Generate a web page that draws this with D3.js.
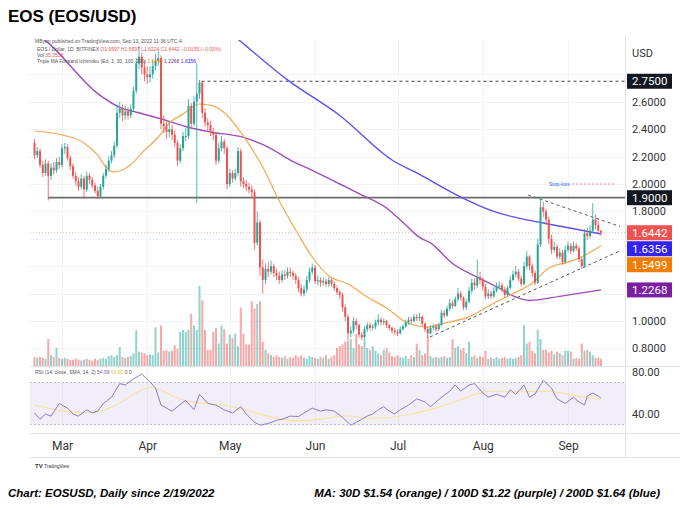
<!DOCTYPE html>
<html>
<head>
<meta charset="utf-8">
<script src="https://cdn.jsdelivr.net/npm/d3@7"></script>
<style>
  body { margin: 0; background: #fff; }
  svg { display: block; font-family: "Liberation Sans", Arial, sans-serif; }
</style>
</head>
<body>
<svg width="680" height="508"></svg>
<script>
// daily EOS/USD candles, Feb 19 2022 -> Sep 13 2022
var firstOpen = 2.30;
var closes = [
  2.21, 2.24, 2.14, 2.08, 2.15, 2.06, 2.12, 2.10, 2.16, 2.14,
  2.26, 2.27, 2.19, 2.13, 2.06, 2.02, 1.98, 2.04, 1.96, 2.06,
  2.03, 1.99, 1.95, 1.91, 1.98, 2.06, 2.11, 2.17, 2.21, 2.28,
  2.52, 2.55, 2.50, 2.53, 2.50, 2.55, 2.68, 2.88, 2.93, 2.85,
  2.80, 2.78, 2.80, 2.86, 2.90, 2.92, 2.44, 2.42, 2.38, 2.40,
  2.36, 2.30, 2.17, 2.26, 2.35, 2.35, 2.57, 2.44, 2.60, 2.66,
  2.74, 2.52, 2.45, 2.43, 2.38, 2.36, 2.17, 2.26, 2.31, 2.26,
  2.00, 2.08, 2.04, 2.08, 2.24, 2.02, 2.00, 1.98, 1.96, 1.94,
  1.57, 1.72, 1.39, 1.30, 1.38, 1.36, 1.40, 1.35, 1.33, 1.30,
  1.34, 1.33, 1.36, 1.35, 1.33, 1.30, 1.24, 1.20, 1.23, 1.30,
  1.36, 1.39, 1.29, 1.30, 1.28, 1.29, 1.27, 1.30, 1.27, 1.24,
  1.21, 1.19, 1.10, 1.03, 0.91, 0.93, 1.00, 0.97, 0.90, 0.88,
  0.94, 0.97, 0.95, 0.96, 0.99, 1.01, 0.99, 1.00, 0.97, 0.95,
  0.93, 0.92, 0.91, 0.94, 0.96, 0.99, 1.01, 1.00, 1.03, 1.02,
  1.03, 0.98, 0.94, 0.91, 0.95, 0.96, 0.94, 0.97, 1.06, 1.04,
  1.09, 1.13, 1.11, 1.16, 1.20, 1.17, 1.10, 1.14, 1.22, 1.28,
  1.26, 1.32, 1.30, 1.25, 1.18, 1.20, 1.18, 1.22, 1.25, 1.26,
  1.23, 1.19, 1.24, 1.30, 1.34, 1.36, 1.31, 1.27, 1.40, 1.47,
  1.40, 1.35, 1.28, 1.56, 1.83, 1.80, 1.74, 1.60, 1.52, 1.54,
  1.47, 1.50, 1.43, 1.52, 1.55, 1.51, 1.55, 1.53, 1.45, 1.40,
  1.64, 1.62, 1.66, 1.74, 1.70, 1.6597, 1.6442
];
var highs = [
  2.33, 2.27, 2.26, 2.17, 2.18, 2.17, 2.15, 2.16, 2.19, 2.20,
  2.29, 2.30, 2.29, 2.21, 2.15, 2.09, 2.05, 2.07, 2.06, 2.09,
  2.08, 2.05, 2.01, 1.98, 2.00, 2.08, 2.14, 2.20, 2.24, 2.31,
  2.58, 2.60, 2.58, 2.57, 2.56, 2.58, 2.71, 2.92, 3.01, 2.96,
  2.90, 2.86, 2.86, 2.90, 2.95, 2.97, 2.94, 2.50, 2.46, 2.45,
  2.43, 2.39, 2.32, 2.29, 2.38, 2.41, 2.62, 2.59, 2.64, 2.88,
  2.76, 2.75, 2.55, 2.48, 2.46, 2.41, 2.38, 2.30, 2.35, 2.33,
  2.28, 2.11, 2.10, 2.11, 2.27, 2.26, 2.05, 2.03, 2.01, 1.99,
  1.96, 1.80, 1.74, 1.45, 1.42, 1.43, 1.44, 1.42, 1.38, 1.36,
  1.37, 1.37, 1.39, 1.39, 1.37, 1.35, 1.32, 1.27, 1.26, 1.33,
  1.39, 1.42, 1.41, 1.33, 1.32, 1.32, 1.31, 1.32, 1.31, 1.29,
  1.26, 1.23, 1.21, 1.12, 1.05, 0.96, 1.03, 1.02, 0.98, 0.92,
  0.96, 0.99, 0.99, 0.98, 1.01, 1.05, 1.03, 1.02, 1.01, 0.98,
  0.96, 0.95, 0.94, 0.96, 0.98, 1.01, 1.03, 1.03, 1.05, 1.05,
  1.06, 1.04, 0.99, 0.96, 0.97, 0.98, 0.98, 0.99, 1.08, 1.08,
  1.11, 1.16, 1.15, 1.18, 1.24, 1.22, 1.18, 1.16, 1.25, 1.31,
  1.31, 1.45, 1.36, 1.32, 1.27, 1.23, 1.22, 1.25, 1.28, 1.29,
  1.28, 1.25, 1.26, 1.33, 1.37, 1.40, 1.38, 1.33, 1.43, 1.51,
  1.48, 1.42, 1.37, 1.60, 1.905, 1.87, 1.82, 1.76, 1.63, 1.58,
  1.56, 1.53, 1.52, 1.55, 1.58, 1.57, 1.58, 1.57, 1.55, 1.47,
  1.67, 1.68, 1.70, 1.86, 1.78, 1.73, 1.6597
];
var lows = [
  2.18, 2.19, 2.12, 2.05, 2.06, 1.88, 2.03, 2.07, 2.08, 2.11,
  2.12, 2.22, 2.17, 2.10, 2.04, 1.99, 1.95, 1.96, 1.89, 1.94,
  2.00, 1.97, 1.93, 1.89, 1.90, 1.96, 2.04, 2.09, 2.15, 2.19,
  2.26, 2.48, 2.46, 2.47, 2.47, 2.48, 2.53, 2.66, 2.84, 2.80,
  2.75, 2.73, 2.74, 2.77, 2.83, 2.86, 2.40, 2.37, 2.33, 2.34,
  2.32, 2.27, 2.13, 2.15, 2.24, 2.31, 2.33, 2.40, 2.42, 1.86,
  2.62, 2.48, 2.42, 2.39, 2.35, 2.32, 2.14, 2.15, 2.24, 2.22,
  1.96, 1.98, 2.01, 2.02, 2.06, 1.98, 1.97, 1.95, 1.93, 1.90,
  1.52, 1.55, 1.33, 1.20, 1.27, 1.32, 1.34, 1.32, 1.30, 1.27,
  1.28, 1.30, 1.31, 1.32, 1.30, 1.27, 1.21, 1.18, 1.18, 1.21,
  1.28, 1.34, 1.27, 1.26, 1.25, 1.26, 1.25, 1.25, 1.25, 1.22,
  1.19, 1.16, 1.07, 1.00, 0.86, 0.88, 0.91, 0.94, 0.88, 0.86,
  0.87, 0.92, 0.93, 0.93, 0.94, 0.97, 0.97, 0.97, 0.95, 0.93,
  0.91, 0.90, 0.89, 0.90, 0.93, 0.95, 0.97, 0.98, 0.99, 1.00,
  1.00, 0.96, 0.92, 0.88, 0.90, 0.93, 0.92, 0.93, 0.96, 1.02,
  1.03, 1.07, 1.09, 1.10, 1.14, 1.15, 1.08, 1.08, 1.13, 1.20,
  1.23, 1.24, 1.27, 1.22, 1.16, 1.16, 1.16, 1.17, 1.21, 1.23,
  1.21, 1.17, 1.18, 1.23, 1.29, 1.32, 1.29, 1.25, 1.26, 1.38,
  1.37, 1.32, 1.26, 1.27, 1.54, 1.76, 1.70, 1.56, 1.49, 1.50,
  1.45, 1.45, 1.41, 1.42, 1.50, 1.49, 1.50, 1.51, 1.43, 1.38,
  1.39, 1.59, 1.60, 1.64, 1.67, 1.64, 1.6224
];
var volumes = [
  10, 9, 10, 9, 8, 30, 12, 10, 20, 9, 8,
  9, 8, 7, 7, 8, 7, 6, 7, 8, 7, 6, 8, 7, 8, 9, 8, 11, 12, 10,
  12, 21, 10, 9, 10, 11, 14, 40, 16, 15, 14,
  12, 13, 12, 43, 15, 45, 17, 18, 16, 17, 23, 19, 38, 40, 38, 40, 58, 45,
  40, 89, 73, 40, 18, 18, 38, 42, 25, 45, 41, 25, 35, 31, 36, 22, 65, 36, 24, 24, 72,
  64, 69, 72, 27, 18, 14, 12, 10, 12, 10, 9, 11, 8, 10, 9, 12,
  10, 12, 9, 8, 11, 10, 9, 8, 10, 9, 12, 8, 10, 12, 20, 22, 24, 27,
  28, 30, 20, 36, 24, 22, 30, 20, 18, 22, 17, 14, 12, 18, 20, 15, 11, 10, 12,
  10, 9, 11, 8, 12, 10, 25, 18, 12, 14, 34, 11, 9, 10, 9,
  10, 11, 9, 10, 30, 20, 22, 18, 20, 14, 27, 10, 12, 9, 11, 10,
  17, 8, 9, 8, 10, 8, 9, 10, 8, 9, 8, 9, 10, 12, 45, 25, 27, 17, 14,
  40, 30, 18, 18, 15, 17, 13, 16, 14, 12, 17, 17, 16, 8, 9, 8, 25, 17, 18, 16, 12, 9, 9, 8
];

// moving averages, read at sample days (day 0 = Feb 19)
var ma30Days = [0, 10, 18, 23, 26, 29, 31, 35, 39, 45, 49, 54, 60, 65, 69, 77, 83, 89, 95, 101, 107, 114, 121, 128, 135, 143, 149, 158, 167, 173, 181, 187, 194, 198, 206];
var ma30 = [2.387, 2.358, 2.30, 2.21, 2.124, 2.088, 2.095, 2.14, 2.226, 2.343, 2.445, 2.51, 2.584, 2.57, 2.52, 2.32, 2.124, 1.876, 1.664, 1.467, 1.33, 1.27, 1.175, 1.095, 0.993, 0.956, 0.985, 1.03, 1.13, 1.19, 1.277, 1.387, 1.43, 1.46, 1.5499];
var ma100Days = [2, 5, 23, 31, 38, 47, 55, 64, 76, 85, 93, 101, 111, 118, 128, 135, 140, 144, 152, 161, 168, 175, 180, 191, 206];
var ma100 = [3.08, 3.03, 2.66, 2.56, 2.52, 2.47, 2.42, 2.38, 2.34, 2.27, 2.175, 2.10, 2.00, 1.93, 1.825, 1.70, 1.61, 1.57, 1.42, 1.32, 1.25, 1.175, 1.15, 1.18, 1.2268];
var ma200Days = [72, 75, 92, 111, 130, 140, 155, 167, 185, 197, 206];
var ma200 = [3.09, 3.04, 2.76, 2.50, 2.175, 2.07, 1.905, 1.80, 1.715, 1.67, 1.6356];

// RSI(14) and its SMA, read at sample days
var rsiDays = [0, 2, 4, 6, 9, 12, 14, 16, 19, 21, 23, 25, 28, 31, 33, 36, 39, 42, 44, 46, 48, 50, 52, 55, 58, 60, 63, 66, 69, 72, 75, 77, 80, 82, 85, 88, 90, 93, 96, 98, 101, 104, 106, 109, 112, 115, 117, 119, 121, 123, 125, 127, 129, 131, 133, 136, 139, 142, 144, 146, 148, 151, 153, 155, 158, 160, 163, 165, 168, 171, 173, 175, 178, 180, 182, 185, 188, 190, 193, 196, 198, 200, 201, 203, 205, 206];
var rsi = [41, 35, 40, 38, 50, 45.6, 40, 38, 44, 41, 42.7, 50, 56, 69, 67.6, 73.5, 78, 70.6, 64.7, 48.5, 45.6, 42.6, 47, 53, 44, 58.8, 50, 48.5, 44, 41, 47, 40, 32, 29.4, 31, 34, 35, 38, 37.6, 41, 45.6, 42.7, 44, 42.7, 36.8, 29.4, 32, 35, 38, 40, 44, 47, 42.7, 40, 44, 48.5, 54.4, 51.5, 47, 51.5, 56, 61.8, 67.6, 61.8, 67.6, 69, 60, 56, 58.8, 56, 63, 58.8, 67.6, 56, 59, 72, 64.7, 54.4, 50, 56, 51.5, 48.5, 57, 60, 57, 55];
var rsiMaDays = [0, 12, 25, 33, 42, 50, 58, 69, 80, 93, 106, 113, 120, 133, 147, 160, 165, 174, 188, 196, 206];
var rsiMa = [48.5, 41, 41, 53, 70.6, 56, 50, 50, 41, 32, 35, 40, 35, 37, 45.6, 58.8, 63, 60, 63, 57, 54];

// drawn levels and triangle
var resistance = 1.90;
var target = 2.75;
var stopLoss = 2.00;
var upperTrend = [[179.5, 1.92], [212.9, 1.69]];
var lowerTrend = [[143.8, 0.883], [212.9, 1.512]];

var priceTicks = [0.8, 1.0, 1.2, 1.4, 1.6, 1.8, 2.0, 2.2, 2.4, 2.6, 2.8];
var rsiTicks = [40, 80];
var tagValues = [2.75, 1.90, 1.6442, 1.6356, 1.5499, 1.2268];

var UP = '#26a69a', DOWN = '#ef5350';
var tagColors = ['#131722', '#131722', '#ef5350', '#3322f5', '#f57c00', '#7b1fa2'];

var opens = closes.map((c, i) => i === 0 ? firstOpen : closes[i - 1]);

var svg = d3.select('svg');
var start = Date.UTC(2022, 1, 19);
var day = i => new Date(start + i * 864e5);

var x = d3.scaleUtc().domain([day(0), day(206)]).range([34.5, 601]);
var y = d3.scaleLinear().domain([0.8, 2.8]).range([348.4, 74.4]);
var vy = d3.scaleLinear().domain([0, 100]).range([366, 276]);
var ry = d3.scaleLinear().domain([40, 80]).range([414, 372]);

var defs = svg.append('defs');
defs.append('clipPath').attr('id', 'mainClip').append('rect')
  .attr('x', 30).attr('y', 40).attr('width', 595).attr('height', 326);
defs.append('clipPath').attr('id', 'rsiClip').append('rect')
  .attr('x', 30).attr('y', 367).attr('width', 595).attr('height', 66);

// title
svg.append('text').attr('x', 8).attr('y', 22)
  .style('font-size', '17px').style('font-weight', 'bold').attr('fill', '#000')
  .text('EOS (EOS/USD)');

// frame
var frame = svg.append('g').attr('stroke', '#e0e3eb').attr('stroke-width', 1);
frame.append('line').attr('x1', 625.5).attr('x2', 625.5).attr('y1', 36).attr('y2', 457);
frame.append('line').attr('x1', 30).attr('x2', 680).attr('y1', 366.5).attr('y2', 366.5);
frame.append('line').attr('x1', 30).attr('x2', 680).attr('y1', 433.5).attr('y2', 433.5);
frame.append('line').attr('x1', 30).attr('x2', 680).attr('y1', 457.5).attr('y2', 457.5);

// grid
var months = x.ticks(d3.utcMonth.every(1));
var grid = svg.append('g').attr('stroke', '#f2f3f6').attr('stroke-width', 1);
grid.selectAll('.vg').data(months).enter().append('line')
  .attr('x1', d => Math.round(x(d)) + 0.5).attr('x2', d => Math.round(x(d)) + 0.5)
  .attr('y1', 40).attr('y2', 433);
grid.selectAll('.hg').data(priceTicks).enter().append('line')
  .attr('x1', 30).attr('x2', 625)
  .attr('y1', d => Math.round(y(d)) + 0.5).attr('y2', d => Math.round(y(d)) + 0.5);

var main = svg.append('g').attr('clip-path', 'url(#mainClip)');

// volume
main.append('g').selectAll('rect').data(volumes).enter().append('rect')
  .attr('x', (d, i) => x(day(i)) - 1)
  .attr('width', 2)
  .attr('y', d => vy(d))
  .attr('height', d => vy(0) - vy(d))
  .attr('fill', (d, i) => closes[i] >= opens[i] ? UP : DOWN)
  .attr('fill-opacity', 0.5);

// last price line
main.append('line').attr('x1', 30).attr('x2', 625)
  .attr('y1', y(closes[closes.length - 1])).attr('y2', y(closes[closes.length - 1]))
  .attr('stroke', DOWN).attr('stroke-opacity', 0.45).attr('stroke-dasharray', '1,2');

// levels
main.append('line').attr('x1', 48).attr('x2', 625)
  .attr('y1', y(resistance)).attr('y2', y(resistance))
  .attr('stroke', '#6b6b6b').attr('stroke-width', 1.8);
main.append('line').attr('x1', x(day(60)) + 2).attr('x2', 625)
  .attr('y1', y(target)).attr('y2', y(target))
  .attr('stroke', '#444').attr('stroke-width', 1).attr('stroke-dasharray', '3,3');
main.append('text').attr('x', 549).attr('y', y(stopLoss) + 1.5)
  .style('font-size', '5px').attr('fill', '#2962ff').text('Stop-loss');
main.append('line').attr('x1', 572).attr('x2', 614)
  .attr('y1', y(stopLoss)).attr('y2', y(stopLoss))
  .attr('stroke', '#f06292').attr('stroke-width', 0.8).attr('stroke-dasharray', '2,2');

// moving averages
var maLine = (days, vals) => d3.line()
  .x((d, i) => x(day(days[i])))
  .y(d => y(d))
  .curve(d3.curveMonotoneX)(vals);
main.append('path').attr('d', maLine(ma200Days, ma200))
  .attr('fill', 'none').attr('stroke', '#5a52ee').attr('stroke-width', 1.4);
main.append('path').attr('d', maLine(ma100Days, ma100))
  .attr('fill', 'none').attr('stroke', '#9c4dbb').attr('stroke-width', 1.4);
main.append('path').attr('d', maLine(ma30Days, ma30))
  .attr('fill', 'none').attr('stroke', '#f5a851').attr('stroke-width', 1.2);

// triangle
[upperTrend, lowerTrend].forEach(t => {
  main.append('line')
    .attr('x1', x(day(t[0][0]))).attr('y1', y(t[0][1]))
    .attr('x2', x(day(t[1][0]))).attr('y2', y(t[1][1]))
    .attr('stroke', '#555').attr('stroke-width', 1).attr('stroke-dasharray', '3,3');
});

// candles
var candles = main.append('g').selectAll('g').data(closes).enter().append('g')
  .attr('fill', (d, i) => d >= opens[i] ? UP : DOWN)
  .attr('stroke', (d, i) => d >= opens[i] ? UP : DOWN);
candles.append('line')
  .attr('x1', (d, i) => x(day(i))).attr('x2', (d, i) => x(day(i)))
  .attr('y1', (d, i) => y(highs[i])).attr('y2', (d, i) => y(lows[i]))
  .attr('stroke-width', 0.8);
candles.append('rect')
  .attr('stroke', 'none')
  .attr('x', (d, i) => x(day(i)) - 1)
  .attr('width', 2)
  .attr('y', (d, i) => y(Math.max(d, opens[i])))
  .attr('height', (d, i) => Math.max(0.8, Math.abs(y(d) - y(opens[i]))));

// legend (tiny TradingView header)
var leg = svg.append('g').style('font-size', '5px').attr('fill', '#555');
leg.append('text').attr('x', 35).attr('y', 43).text('MByun published on TradingView.com, Sep 13, 2022 11:36 UTC-4');
var l1 = leg.append('text').attr('x', 37).attr('y', 51);
l1.append('tspan').text('EOS / Dollar, 1D, BITFINEX  ');
l1.append('tspan').attr('fill', DOWN).text('O1.6597  H1.6597  L1.6224  C1.6442  −0.0155 (−0.93%)');
var l2 = leg.append('text').attr('x', 37).attr('y', 57);
l2.append('tspan').text('Vol  ');
l2.append('tspan').attr('fill', DOWN).text('35.353K');
var l3 = leg.append('text').attr('x', 37).attr('y', 63);
l3.append('tspan').text('Triple MA Forward Ichimoku (Ed, 3, 30, 100, 200)  ');
l3.append('tspan').attr('fill', '#f57c00').text('1.5499  ');
l3.append('tspan').attr('fill', '#7b1fa2').text('1.2268  ');
l3.append('tspan').attr('fill', '#3322f5').text('1.6356');

// RSI pane
var rsiG = svg.append('g').attr('clip-path', 'url(#rsiClip)');
rsiG.append('rect').attr('x', 30).attr('width', 595)
  .attr('y', ry(70)).attr('height', ry(30) - ry(70))
  .attr('fill', '#7e57c2').attr('fill-opacity', 0.1);
[70, 30].forEach(v => rsiG.append('line').attr('x1', 30).attr('x2', 625)
  .attr('y1', ry(v)).attr('y2', ry(v))
  .attr('stroke', '#b2b5be').attr('stroke-width', 0.8).attr('stroke-dasharray', '2,2'));
rsiG.append('path')
  .attr('d', d3.line().x((d, i) => x(day(rsiMaDays[i]))).y(d => ry(d)).curve(d3.curveBasis)(rsiMa))
  .attr('fill', 'none').attr('stroke', '#f7e3a1').attr('stroke-width', 1.2);
rsiG.append('path')
  .attr('d', d3.line().x((d, i) => x(day(rsiDays[i]))).y(d => ry(d))(rsi))
  .attr('fill', 'none').attr('stroke', '#8e7cc3').attr('stroke-width', 1);
var rl = svg.append('text').attr('x', 35).attr('y', 374).style('font-size', '5px').attr('fill', '#555');
rl.append('tspan').text('RSI (14, close, SMA, 14, 2)  ');
rl.append('tspan').attr('fill', '#7e57c2').text('54.99  ');
rl.append('tspan').attr('fill', '#e6c84a').text('53.85  ');
rl.append('tspan').text('0  0');

// price tags, stacked so they do not overlap
var tags = tagValues.map((v, i) => ({ v: v, c: tagColors[i], cy: y(v) }))
  .sort((a, b) => a.cy - b.cy);
tags.forEach((t, i) => { if (i > 0) t.cy = Math.max(t.cy, tags[i - 1].cy + 16); });

// price axis: tick labels hidden under a tag are left out
var axisFont = 'Roboto, "Liberation Sans", sans-serif';
var shownTicks = priceTicks.filter(v => tags.every(t => Math.abs(y(v) - t.cy) > 11));
var pAxis = svg.append('g').attr('transform', 'translate(628,0)')
  .call(d3.axisRight(y).tickValues(shownTicks).tickFormat(d3.format('.4f')).tickSize(0).tickPadding(4));
pAxis.select('.domain').remove();
pAxis.selectAll('text').style('font-family', axisFont).style('font-size', '11px').attr('fill', '#333');

svg.append('text').attr('x', 632).attr('y', 57).style('font-family', axisFont)
  .style('font-size', '11px').attr('fill', '#333').text('USD');

var rAxis = svg.append('g').attr('transform', 'translate(628,0)')
  .call(d3.axisRight(ry).tickValues(rsiTicks).tickFormat(d3.format('.2f')).tickSize(0).tickPadding(4));
rAxis.select('.domain').remove();
rAxis.selectAll('text').style('font-family', axisFont).style('font-size', '11px').attr('fill', '#333');

// time axis
var tAxis = svg.append('g').attr('transform', 'translate(0,436)')
  .call(d3.axisBottom(x).ticks(d3.utcMonth.every(1)).tickFormat(d3.utcFormat('%b')).tickSize(0).tickPadding(5));
tAxis.select('.domain').remove();
tAxis.selectAll('text').style('font-family', axisFont).style('font-size', '12px').attr('fill', '#333');

var tagG = svg.append('g').selectAll('g').data(tags).enter().append('g');
tagG.append('rect').attr('x', 627).attr('width', 45)
  .attr('y', d => d.cy - 7.5).attr('height', 15).attr('fill', d => d.c);
tagG.append('text').attr('x', 632).attr('y', d => d.cy).attr('dy', '0.36em')
  .style('font-family', axisFont).style('font-size', '11.5px').attr('fill', '#fff')
  .text(d => d3.format('.4f')(d.v));

// TradingView mark
var tv = svg.append('text').attr('x', 35).attr('y', 468).attr('fill', '#333');
tv.append('tspan').style('font-size', '6px').style('font-weight', 'bold').text('TV ');
tv.append('tspan').style('font-size', '4.5px').text('TradingView');

// caption
svg.append('text').attr('x', 8).attr('y', 497)
  .style('font-size', '11.5px').style('font-weight', 'bold').style('font-style', 'italic')
  .text('Chart: EOSUSD, Daily since 2/19/2022');
svg.append('text').attr('x', 660).attr('y', 497).attr('text-anchor', 'end')
  .style('font-size', '11.5px').style('font-weight', 'bold').style('font-style', 'italic')
  .text('MA: 30D $1.54 (orange) / 100D $1.22 (purple) / 200D $1.64 (blue)');
</script>
</body>
</html>
